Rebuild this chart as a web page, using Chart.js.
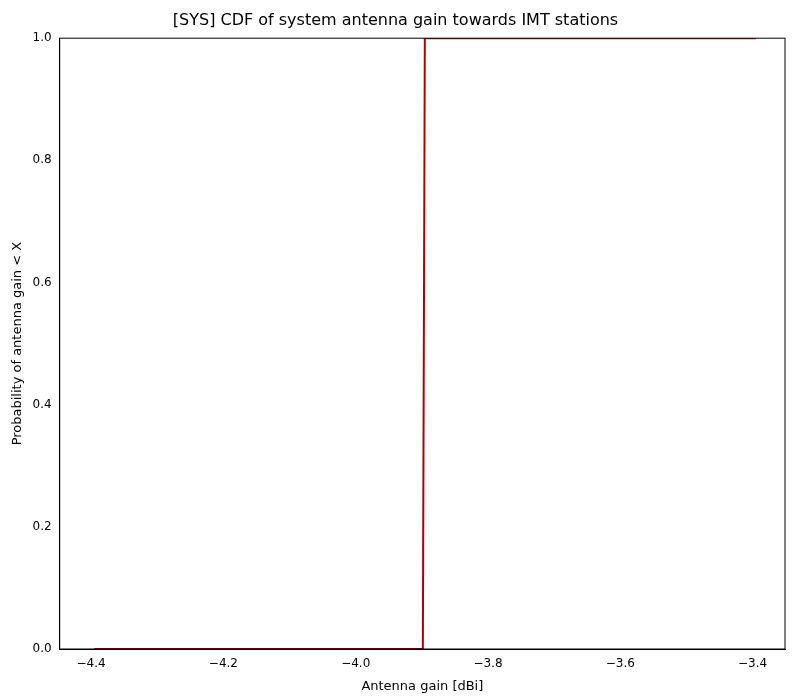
<!DOCTYPE html>
<html>
<head>
<meta charset="utf-8">
<script src="https://cdn.jsdelivr.net/npm/chart.js@4"></script>
<style>
body { margin: 0; background: #fff; }
#wrap { width: 800px; height: 700px; }
</style>
</head>
<body>
<div id="wrap"><canvas id="chart1"></canvas></div>
<script>
Chart.defaults.font.family = '"DejaVu Sans", sans-serif';
Chart.defaults.color = '#000';

/** CDF data */
const gainX = [-4.395, -3.8985, -3.8955, -3.395];
const probY = [0, 0, 1, 1];
const yTicks = [0, 0.2, 0.4, 0.6, 0.8, 1.0];

new Chart(document.getElementById('chart1'), {
    type: 'line',
    data: {
        datasets: [{
            data: gainX.map((x, i) => ({ x: x, y: probY[i] })),
            borderColor: '#b00000',
            borderWidth: 2,
            pointRadius: 0,
            fill: false,
            tension: 0
        }]
    },
    options: {
        animation: false,
        responsive: true,
        maintainAspectRatio: false,
        layout: { padding: { left: 6, right: 15, top: 5, bottom: 2 } },
        plugins: {
            legend: { display: false },
            tooltip: { enabled: false },
            title: {
                display: true,
                text: '[SYS] CDF of system antenna gain towards IMT stations',
                font: { size: 16, weight: 'normal' },
                padding: { top: 6, bottom: 8 }
            }
        },
        scales: {
            x: {
                type: 'linear',
                min: -4.4475,
                max: -3.351,
                grid: { display: false, drawTicks: true, tickLength: 5 },
                border: { color: '#000' },
                afterBuildTicks: axis => {
                    axis.ticks = [-4.4, -4.2, -4.0, -3.8, -3.6, -3.4].map(v => ({ value: v }));
                },
                ticks: {
                    font: { size: 12 },
                    callback: v => v.toFixed(1).replace('-', '\u2212')
                },
                title: { display: true, text: 'Antenna gain [dBi]', font: { size: 13 } }
            },
            y: {
                min: 0,
                max: 1,
                grid: { display: false, drawTicks: true, tickLength: 5 },
                border: { color: '#000' },
                afterBuildTicks: axis => {
                    axis.ticks = yTicks.map(v => ({ value: v }));
                },
                ticks: {
                    font: { size: 12 },
                    callback: v => v.toFixed(1)
                },
                title: { display: true, text: 'Probability of antenna gain < X', font: { size: 13 } }
            }
        }
    },
    plugins: [{
        id: 'frame',
        afterDraw(chart) {
            const { ctx, chartArea: a } = chart;
            ctx.save();
            ctx.strokeStyle = '#000';
            ctx.lineWidth = 1;
            ctx.strokeRect(a.left, a.top, a.right - a.left, a.bottom - a.top);
            ctx.restore();
        }
    }]
});
</script>
</body>
</html>
